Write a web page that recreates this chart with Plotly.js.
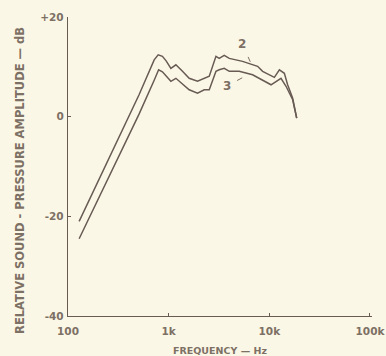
<!DOCTYPE html>
<html>
<head>
<meta charset="utf-8">
<script src="https://cdn.plot.ly/plotly-3.0.1.min.js"></script>
<style>html,body{margin:0;padding:0;background:#fbf7e7;}#chart{width:386px;height:356px;}</style>
</head>
<body>
<div id="chart"></div>
<script>
// Curve 2 (upper)
const freq2 = [129, 508, 718, 787, 867, 944, 1052, 1180, 1372, 1599, 1935, 2256, 2531, 2950, 3178, 3565, 4000, 5420, 6570, 7650, 8580, 10000, 11220, 12590, 14100, 15200, 17060, 18700];
const db2   = [-21.0, 4.4, 11.4, 12.4, 12.1, 11.2, 9.7, 10.4, 9.1, 7.7, 7.1, 7.7, 8.1, 12.1, 11.7, 12.3, 11.7, 11.1, 10.5, 10.1, 9.1, 8.5, 7.9, 9.4, 8.7, 6.4, 3.7, -0.3];
// Curve 3 (lower)
const freq3 = [129, 508, 718, 795, 867, 944, 1052, 1180, 1372, 1599, 1935, 2256, 2531, 2950, 3178, 3565, 4000, 5020, 6820, 8580, 10400, 13060, 14650, 17060, 18700];
const db3   = [-24.5, 0.5, 7.3, 9.4, 9.0, 8.2, 7.1, 7.7, 6.5, 5.4, 4.7, 5.4, 5.4, 9.1, 9.4, 9.7, 9.1, 9.1, 8.4, 7.4, 6.4, 7.7, 6.1, 3.4, -0.3];

const xTickVals = [100, 1000, 10000, 100000];
const xTickText = ["100", "1k", "10k", "100k"];
const yTickVals = [-40, -20, 0, 20];
const yTickText = ["-40", "-20", "0", "+20"];

const xTitle = 'FREQUENCY — Hz';
const yTitle = 'RELATIVE SOUND - PRESSURE AMPLITUDE — dB';

const labelText = ["2", "3"];
const labelFreq = [6470, 5380];
const labelDb   = [11.0, 7.8];
const labelAx   = [-8, -15];
const labelAy   = [-18, 8];

const lineColor = '#675b53';
const textColor = '#7d7064';

const traces = [
  {x: freq2, y: db2, mode: 'lines', line: {color: lineColor, width: 1.5}, hoverinfo: 'skip'},
  {x: freq3, y: db3, mode: 'lines', line: {color: lineColor, width: 1.5}, hoverinfo: 'skip'}
];

const annotations = labelText.map((t, i) => ({
  x: Math.log10(labelFreq[i]), y: labelDb[i], xref: 'x', yref: 'y',
  text: '<b>' + t + '</b>', showarrow: true, arrowhead: 0, arrowwidth: 1, arrowcolor: textColor,
  ax: labelAx[i], ay: labelAy[i], standoff: 0, startstandoff: 5,
  font: {family: 'DejaVu Sans', size: 12, color: textColor}
}));
annotations.push({
  xref: 'paper', yref: 'paper', x: -0.158, y: 0.455, xanchor: 'center', yanchor: 'middle',
  textangle: -90, showarrow: false, text: '<b>' + yTitle + '</b>',
  font: {family: 'DejaVu Sans', size: 11.5, color: textColor}
});

const layout = {
  width: 386, height: 356,
  paper_bgcolor: '#fbf7e7', plot_bgcolor: '#fbf7e7',
  margin: {l: 68, r: 14, t: 17, b: 40},
  showlegend: false,
  font: {family: 'DejaVu Sans', color: textColor},
  xaxis: {
    type: 'log', range: [2, 5.02],
    tickvals: xTickVals, ticktext: xTickText,
    ticks: 'inside', ticklen: 3, tickcolor: lineColor,
    showline: true, linecolor: lineColor, linewidth: 1.2, mirror: false,
    showgrid: false, zeroline: false, ticklabelstandoff: 5,
    tickfont: {family: 'DejaVu Sans', size: 10.5, color: textColor, weight: 'bold'},
    title: {text: '<b>' + xTitle + '</b>', font: {family: 'DejaVu Sans', size: 9.5, color: textColor}, standoff: 12}
  },
  yaxis: {
    range: [-40, 20],
    tickvals: yTickVals, ticktext: yTickText,
    ticks: 'inside', ticklen: 3, tickcolor: lineColor,
    showline: true, linecolor: lineColor, linewidth: 1.2, mirror: false,
    showgrid: false, zeroline: false, ticklabelstandoff: 1,
    tickfont: {family: 'DejaVu Sans', size: 10.5, color: textColor, weight: 'bold'}
  },
  annotations: annotations
};

Plotly.newPlot('chart', traces, layout, {displayModeBar: false, staticPlot: true});
</script>
</body>
</html>
